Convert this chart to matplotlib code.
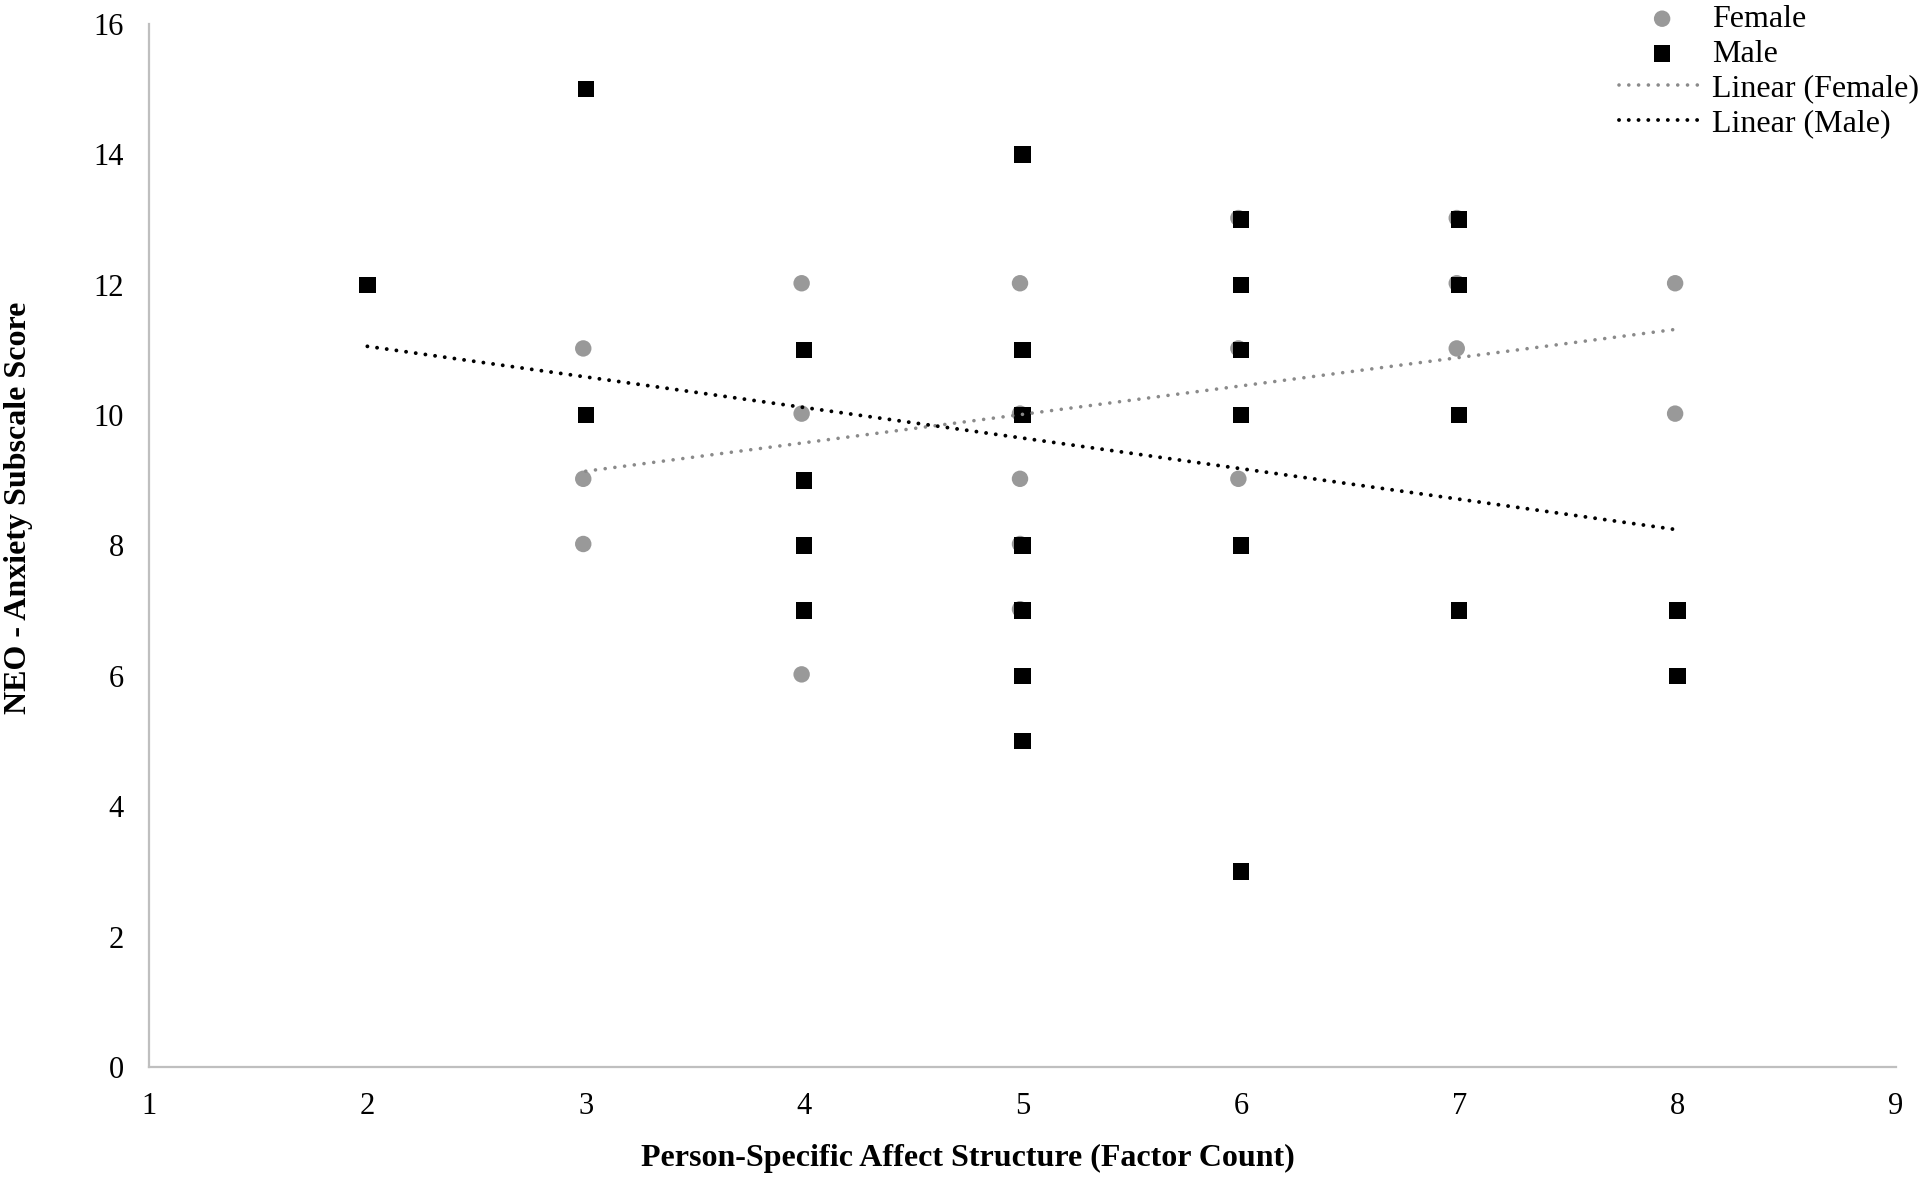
import matplotlib
matplotlib.use("Agg")
import matplotlib.pyplot as plt
import matplotlib.transforms as mtransforms
import numpy as np

# ---------------- data ----------------
female_x = [3, 3, 3, 4, 4, 4, 5, 5, 5, 5, 5, 6, 6, 6, 7, 7, 7, 8, 8]
female_y = [11, 9, 8, 12, 10, 6, 12, 10, 9, 8, 7, 13, 11, 9, 13, 12, 11, 12, 10]

male_x = [2, 3, 3, 4, 4, 4, 4, 5, 5, 5, 5, 5, 5, 5, 6, 6, 6, 6, 6, 6, 7, 7, 7, 7, 8, 8]
male_y = [12, 15, 10, 11, 9, 8, 7, 14, 11, 10, 8, 7, 6, 5, 13, 12, 11, 10, 8, 3, 13, 12, 10, 7, 7, 6]

# linear trend lines: (slope, intercept)
female_trend = (0.436, 7.832)
male_trend = (-0.469, 11.993)

x_ticks = [1, 2, 3, 4, 5, 6, 7, 8, 9]
y_ticks = [0, 2, 4, 6, 8, 10, 12, 14, 16]

x_label = "Person-Specific Affect Structure (Factor Count)"
y_label = "NEO - Anxiety Subscale Score"
legend_labels = ["Female", "Male", "Linear (Female)", "Linear (Male)"]

# ---------------- style ----------------
plt.rcParams['font.family'] = ['Liberation Serif', 'DejaVu Serif']
FEMALE_C = "#999999"
FEMALE_LINE_C = "#8a8a8a"
MALE_C = "#000000"
AXIS_C = "#bfbfbf"

fig = plt.figure(figsize=(19.2, 11.8), dpi=100)
ax = fig.add_axes([149 / 1920, 113 / 1180, 1747 / 1920, 1043 / 1180])

# female markers drawn slightly left/up, as in the original
off = mtransforms.offset_copy(ax.transData, fig=fig, x=-2.5, y=1.5, units='dots')
h_f = ax.scatter(female_x, female_y, s=140, marker='o', color=FEMALE_C,
                 edgecolors='none', transform=off, zorder=3, label=legend_labels[0])
h_m = ax.scatter(male_x, male_y, s=140, marker='s', color=MALE_C,
                 edgecolors='none', zorder=4, label=legend_labels[1])

# trend lines over each series' x range
fx = np.array([min(female_x), max(female_x)], dtype=float)
mx = np.array([min(male_x), max(male_x)], dtype=float)
l_f, = ax.plot(fx, female_trend[0] * fx + female_trend[1], color=FEMALE_LINE_C,
               lw=2.6, linestyle=(0, (0.01, 2.7)), dash_capstyle='round', zorder=5,
               label=legend_labels[2])
l_m, = ax.plot(mx, male_trend[0] * mx + male_trend[1], color=MALE_C,
               lw=2.8, linestyle=(0, (0.01, 2.5)), dash_capstyle='round', zorder=5,
               label=legend_labels[3])

ax.set_xlim(x_ticks[0], x_ticks[-1])
ax.set_ylim(y_ticks[0], y_ticks[-1])
ax.set_xticks(x_ticks)
ax.set_yticks(y_ticks)
ax.tick_params(axis='both', length=0, labelsize=22, colors='black')
ax.tick_params(axis='x', pad=18)
ax.tick_params(axis='y', pad=18)
for s in ['top', 'right']:
    ax.spines[s].set_visible(False)
for s in ['left', 'bottom']:
    ax.spines[s].set_color(AXIS_C)
    ax.spines[s].set_linewidth(1.6)
ax.patch.set_alpha(0)

fig.text(968 / 1920, 1 - 1158 / 1180, x_label, ha='center', va='center',
         fontsize=23, fontweight='bold')
fig.text(19 / 1920, 1 - 508 / 1180, y_label, ha='center', va='center',
         rotation=90, fontsize=23, fontweight='bold')

leg = fig.legend(handles=[h_f, h_m, l_f, l_m], loc='upper left',
                 bbox_to_anchor=(1619 / 1920, 0.996), frameon=False, fontsize=23,
                 handlelength=2.7, handletextpad=0.2, labelspacing=0.165,
                 borderpad=0, borderaxespad=0)

fig.savefig("out.png", dpi=100)
